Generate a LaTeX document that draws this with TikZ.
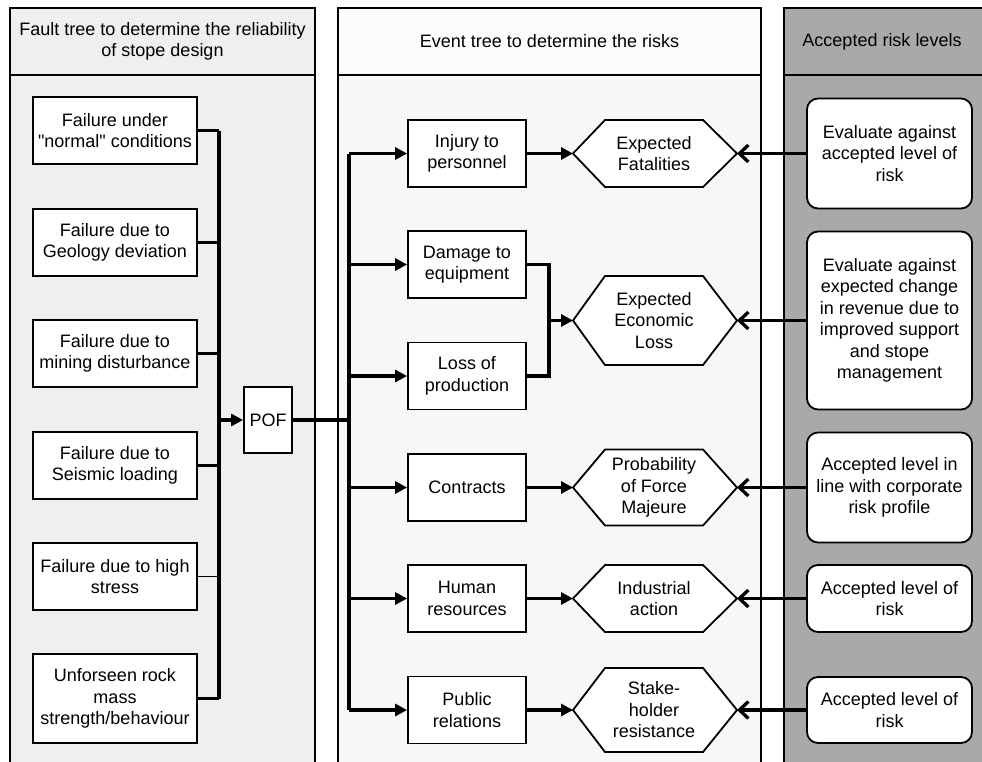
\documentclass[tikz,border=0pt]{standalone}
\usepackage{fontspec}
\setmainfont{Liberation Sans}[Ligatures=TeXOff]
\usetikzlibrary{arrows.meta,calc}
\definecolor{leftgray}{HTML}{EFEFEF}
\definecolor{midgray}{HTML}{F7F7F7}
\definecolor{midhead}{HTML}{FCFCFC}
\definecolor{rightgray}{HTML}{A9A9A9}
\newcommand\hexbox[4]{%
  \pgfmathsetmacro\hyt{#2-#3/2}\pgfmathsetmacro\hyb{#2+#3/2}%
  \coordinate (#1l) at (573,#2);
  \coordinate (#1r) at (737,#2);
  \draw[hexline] (605,\hyt) -- (703,\hyt) -- (#1r) -- (703,\hyb) -- (605,\hyb) -- (#1l) -- cycle;
  \node[hextext] (#1) at (654,#2) {#4};
}
\begin{document}
\begin{tikzpicture}[x=1pt,y=-1pt,
  txt/.style={font=\fontsize{18}{21.5}\selectfont, align=center, inner sep=0pt},
  panelline/.style={draw=black, line width=1.6pt},
  boxnode/.style={txt, draw=black, fill=white, line width=1.8pt},
  leftbox/.style={boxnode, minimum width=164pt, minimum height=67pt},
  midbox/.style={boxnode, minimum width=118pt, minimum height=67pt},
  rbox/.style={boxnode, rounded corners=11pt, minimum width=165pt},
  hexline/.style={draw=black, fill=white, line width=1.8pt, line join=miter},
  hextext/.style={txt},
  conn/.style={draw=black, line width=3.3pt},
  thinconn/.style={draw=black, line width=1.8pt},
  farr/.style={conn, -{Triangle[length=12pt,width=12pt]}},
  oarr/.style={conn, -{Straight Barb[length=9pt,width=17pt]}}
]
\useasboundingbox (0,0) rectangle (982,761);
% panels
\draw[panelline, fill=leftgray] (10,8) rectangle (315,780);
\draw[panelline] (10,75) -- (315,75);
\draw[panelline, fill=midgray] (338,8) rectangle (761,780);
\fill[midhead] (339,9) rectangle (760,74);
\draw[panelline] (338,75) -- (761,75);
\draw[panelline, fill=rightgray] (784,8) rectangle (995,780);
\draw[panelline] (784,75) -- (995,75);
\node[txt] (h1) at (162.5,41.5) {Fault tree to determine the reliability\\of stope design};
\node[txt] (h2) at (549.5,41.5) {Event tree to determine the risks};
\node[txt] (h3) at (882,41.5) {Accepted risk levels};
% left boxes
\node[leftbox] (L1) at (115,130.5) {Failure under\\"normal" conditions};
\node[leftbox] (L2) at (115,242.5) {Failure due to\\Geology deviation};
\node[leftbox] (L3) at (115,353.5) {Failure due to\\mining disturbance};
\node[leftbox] (L4) at (115,465.5) {Failure due to\\Seismic loading};
\node[leftbox] (L5) at (115,576.5) {Failure due to high\\stress};
\node[leftbox, minimum height=89pt] (L6) at (115,698.5) {Unforseen rock\\mass\\strength/behaviour};
\node[boxnode, minimum width=48pt, minimum height=66pt] (pof) at (268,420) {POF};
\coordinate (lb) at (219,420);
\foreach \n in {L1,L2,L3,L4,L6} \draw[conn] (\n.east) -- (\n.east -| lb);
\draw[thinconn] (L5.east) -- (L5.east -| lb);
\draw[conn] (L1.east -| lb) -- (L6.east -| lb);
\draw[farr] (lb |- pof.west) -- (pof.west);
% middle boxes
\node[midbox] (M1) at (467,153.5) {Injury to\\personnel};
\node[midbox] (M2) at (467,264.5) {Damage to\\equipment};
\node[midbox] (M3) at (467,376) {Loss of\\production};
\node[midbox] (M4) at (467,487.5) {Contracts};
\node[midbox] (M5) at (467,598.5) {Human\\resources};
\node[midbox] (M6) at (467,710) {Public\\relations};
\coordinate (mb) at (349,420);
\draw[conn] (pof.east) -- (mb |- pof.east);
\draw[line width=4.2pt] (mb |- M1.west) -- (mb |- M6.west);
\foreach \n in {M1,M2,M3,M4,M5,M6} \draw[farr] (mb |- \n.west) -- (\n.west);
% hexagons
\hexbox{H1}{153.5}{67}{Expected\\Fatalities}
\hexbox{H2}{320.5}{89}{Expected\\Economic\\Loss}
\hexbox{H3}{487.5}{76}{Probability\\of Force\\Majeure}
\hexbox{H4}{598.5}{67}{Industrial\\action}
\hexbox{H5}{710}{84}{Stake-\\holder\\resistance}
\coordinate (ej) at (549,320.5);
\draw[farr] (M1.east) -- (H1l);
\draw[conn] (M2.east) -- (M2.east -| ej) -- (M3.east -| ej) -- (M3.east);
\draw[farr] (ej) -- (H2l);
\draw[farr] (M4.east) -- (H3l);
\draw[farr] (M5.east) -- (H4l);
\draw[farr] (M6.east) -- (H5l);
% right boxes
\node[rbox, minimum height=110pt] (R1) at (889.5,153.5) {Evaluate against\\accepted level of\\risk};
\node[rbox, minimum height=178pt] (R2) at (889.5,320.5) {Evaluate against\\expected change\\in revenue due to\\improved support\\and stope\\management};
\node[rbox, minimum height=110pt] (R3) at (889.5,487.5) {Accepted level in\\line with corporate\\risk profile};
\node[rbox, minimum height=67pt] (R4) at (889.5,598.5) {Accepted level of\\risk};
\node[rbox, minimum height=66pt] (R5) at (889.5,710) {Accepted level of\\risk};
\draw[oarr] (R1.west) -- (H1r);
\draw[oarr] (R2.west) -- (H2r);
\draw[oarr] (R3.west) -- (H3r);
\draw[oarr] (R4.west) -- (H4r);
\draw[oarr] (R5.west) -- (H5r);
\end{tikzpicture}
\end{document}
